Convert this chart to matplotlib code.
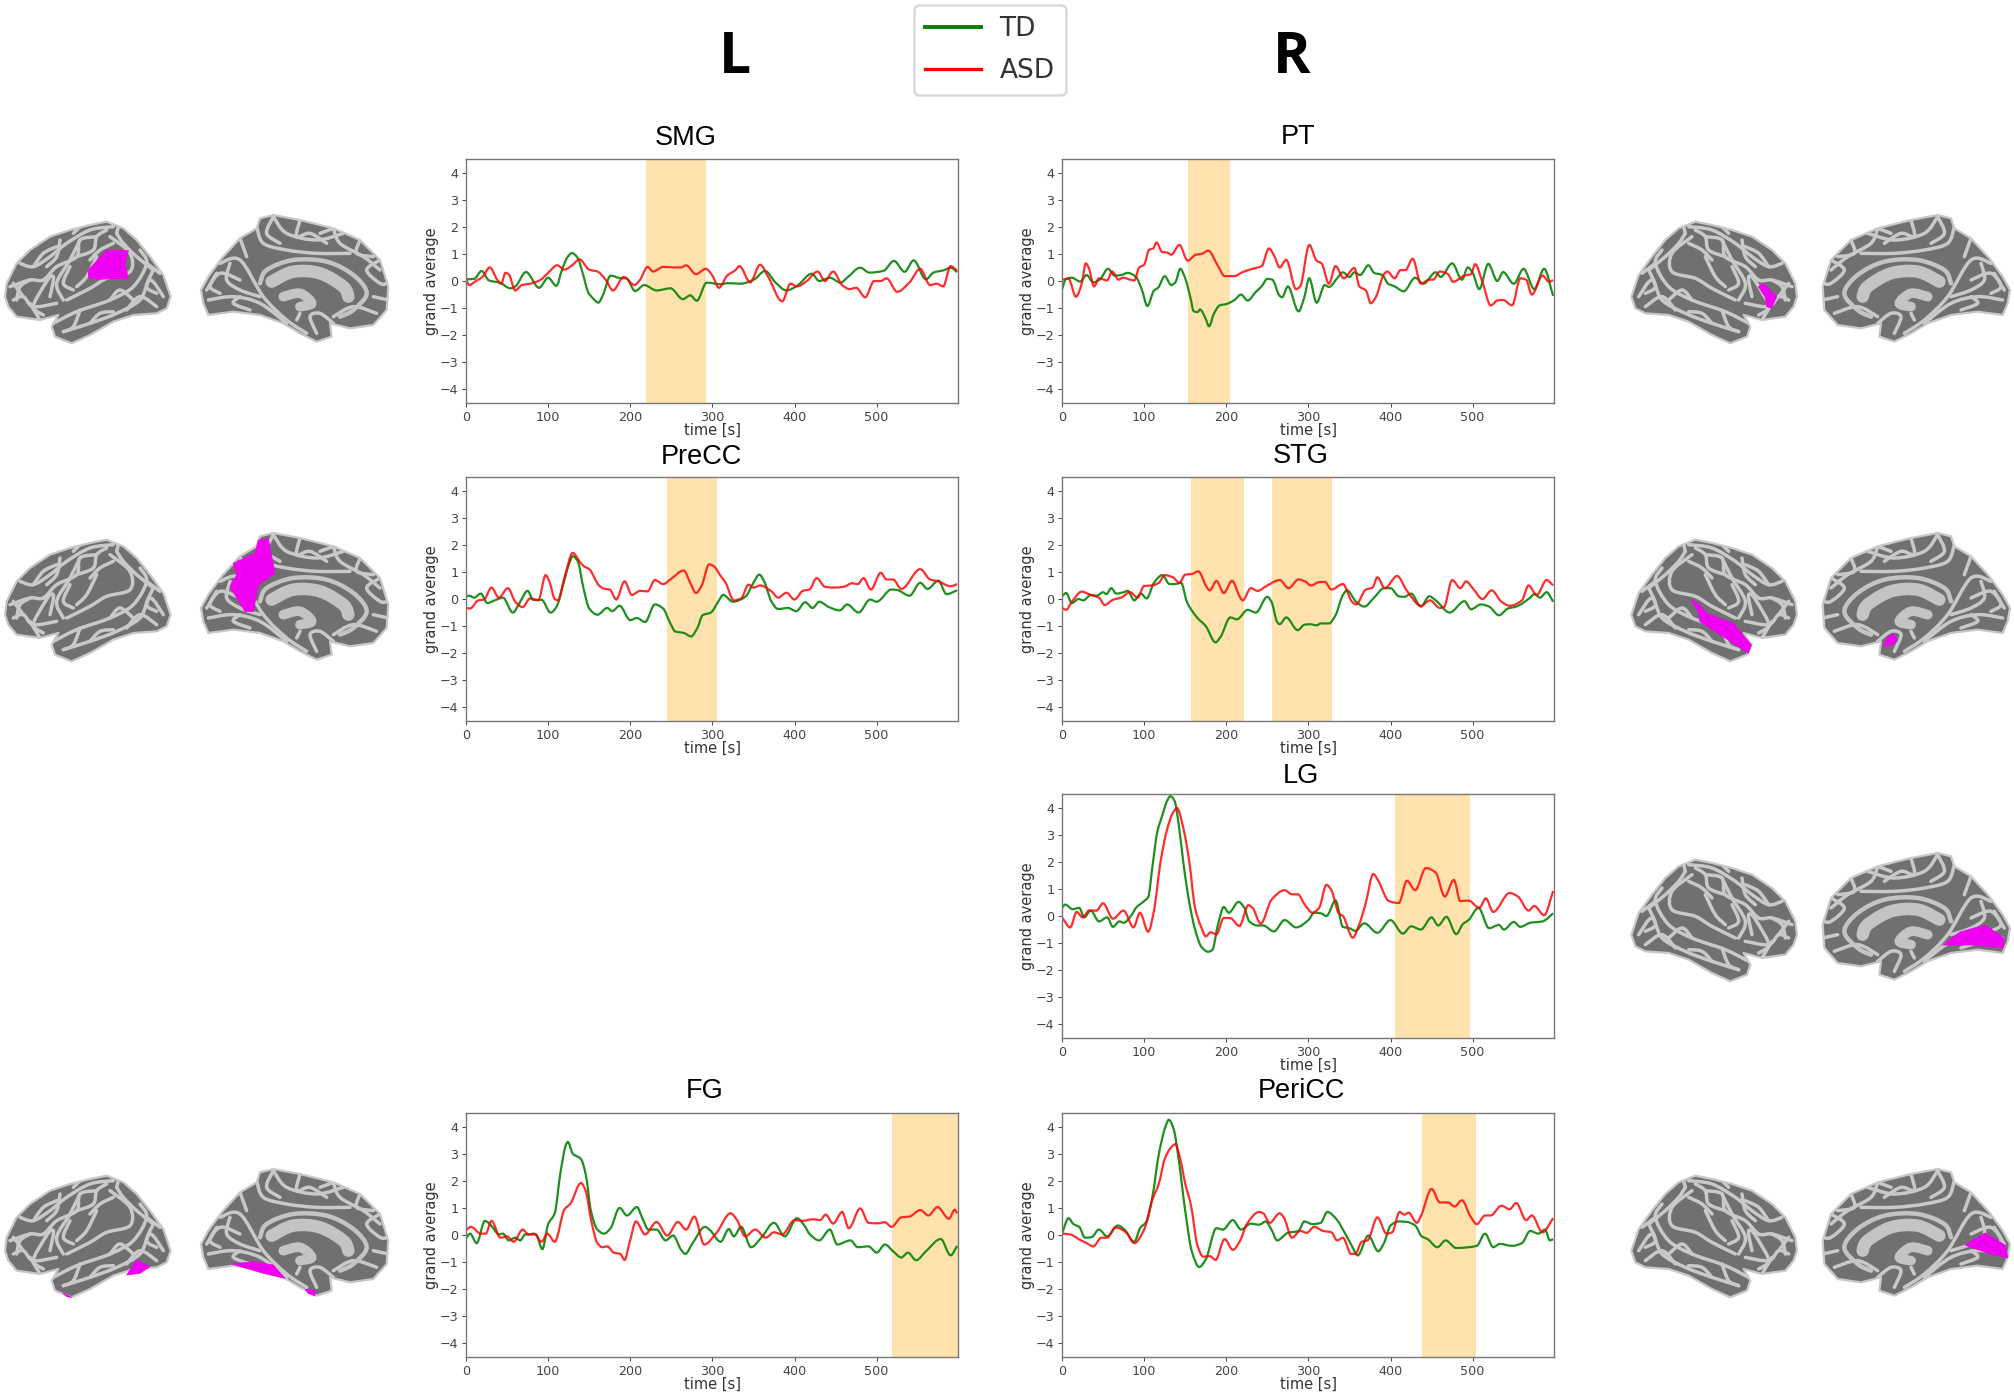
import numpy as np
import matplotlib
matplotlib.use("Agg")
import matplotlib.pyplot as plt
from matplotlib.patches import Polygon, PathPatch
from matplotlib.path import Path
from matplotlib.lines import Line2D

W, H = 2014, 1396

# ---------- data: (time [s], grand average) ----------
SMG_TD_T = [0,10,19,28,41,54,60,73,89,100,110,117,124,129,136,142,149,155,161,167,176,189,195,206,217,232,249,264,273,281,293,310,319,334,351,364,377,390,403,421,430,443,456,464,480,491,508,521,534,545,560,569,582,590,598]
SMG_TD_V = [.06,.08,.37,.02,-.06,-.27,-.2,.33,-.25,.12,-.18,.43,.9,1.03,.85,.3,-.43,-.65,-.8,-.5,.2,.1,.1,-.37,-.15,-.35,-.27,-.67,-.53,-.73,-.06,-.12,-.08,-.1,.06,.37,-.06,-.35,-.18,.27,0,.12,-.06,.12,.49,.31,.37,.74,.34,.76,.06,.31,.4,.49,.33]
SMG_ASD_T = [0,4,12,20,29,38,43,48,52,60,68,78,90,100,111,120,130,138,150,160,170,179,192,205,212,221,228,240,255,262,268,280,292,300,308,318,328,333,346,358,368,385,395,403,415,428,437,447,458,467,475,486,497,505,512,525,540,553,565,573,581,590,598]
SMG_ASD_V = [.05,-.15,0,.15,.5,.05,-.1,.3,.25,-.35,-.15,-.1,.03,.3,.58,.42,.6,.8,.42,.35,.05,-.35,.15,-.15,.05,.52,.35,.52,.5,.5,.58,.25,.45,.2,-.25,.2,.4,.55,-.05,.6,.15,-.75,-.1,-.2,0,.35,0,.35,-.15,-.3,-.25,-.6,0,0,.1,-.4,-.05,.45,-.15,-.1,-.2,.55,.38]

PT_TD_T = [0,5,12,22,30,38,46,56,64,72,80,90,97,104,112,117,125,133,138,144,150,157,160,165,168,175,179,185,192,200,210,218,226,236,243,250,256,265,268,275,288,295,301,310,320,325,335,342,350,356,363,373,380,390,397,405,416,430,440,455,461,475,487,494,500,508,519,530,537,550,562,575,587,598]
PT_TD_V = [-.3,.08,.12,-.02,.22,-.05,.05,.45,.2,.22,.3,.15,-.3,-.92,-.35,-.25,.18,-.15,-.05,.45,.1,-.7,-1.1,-1.15,-1.05,-1.4,-1.67,-1.2,-.9,-.85,-.7,-.5,-.72,-.4,-.2,.08,.05,-.55,-.6,-.2,-1.12,-.6,.1,-.8,-.15,-.22,.1,.32,.15,.32,.22,.58,.3,.22,-.1,-.2,-.38,.12,-.1,.32,.15,.65,.05,.5,.3,-.3,.63,0,.33,-.1,.45,-.3,.45,-.55]
PT_ASD_T = [0,8,17,24,29,33,39,45,55,61,69,74,88,94,100,106,111,115,122,128,133,143,153,163,170,178,190,198,210,220,232,243,252,258,265,273,285,290,301,310,316,325,333,343,356,362,370,376,382,392,396,405,412,418,427,437,447,452,460,470,476,490,498,503,512,522,530,537,548,558,565,572,585,593,598]
PT_ASD_V = [.05,.08,-.58,-.1,.65,.45,-.2,.1,.02,.35,.05,.12,.02,.5,.6,1.15,1.2,1.42,1.07,1.05,.97,1.33,.75,.97,1,1.12,.55,.18,.18,.33,.45,.55,1.2,.95,.5,.78,-.3,-.2,1.33,.75,.65,-.1,.55,.1,.48,-.2,-.35,-.82,-.6,.25,.35,.1,.4,.4,.82,-.1,.05,.05,.35,.25,-.03,.2,.25,.62,-.05,-.9,-.72,-.7,-.9,.1,.05,-.5,.2,-.03,.03]

PRECC_TD_T = [0,4,10,18,26,35,45,57,66,75,82,92,103,110,118,125,130,136,143,150,160,172,178,187,200,208,218,230,240,248,255,265,274,282,288,298,308,313,325,340,350,357,363,372,380,392,402,413,422,430,442,455,464,478,492,500,518,525,540,553,562,575,585,598]
PRECC_TD_V = [.1,.12,.05,.2,-.15,-.05,.05,-.5,-.1,.3,-.03,-.03,-.5,-.3,.5,1.25,1.58,1.4,.4,-.35,-.58,-.33,-.45,-.25,-.78,-.7,-.85,-.2,-.35,-.85,-1.2,-1.25,-1.38,-1.05,-.6,-.5,-.05,.15,-.1,.08,.6,.9,.65,-.1,-.37,-.33,-.45,-.12,-.33,-.1,-.3,-.42,-.2,-.5,-.02,-.1,.35,.33,.12,.6,.37,.68,.18,.32]
PRECC_ASD_T = [0,5,15,22,31,40,51,60,69,78,88,97,102,108,112,120,130,138,143,150,162,168,175,183,193,202,212,221,230,240,250,265,273,280,287,296,302,310,316,326,335,344,350,358,372,380,390,400,410,418,427,437,448,460,470,477,484,493,505,512,520,530,553,565,575,590,598]
PRECC_ASD_V = [-.33,-.35,-.05,-.02,.42,.05,.4,-.1,-.3,.02,-.05,.88,.6,0,-.05,.8,1.7,1.4,1.22,1.1,.5,.38,.35,-.02,.65,.15,.3,.28,.7,.55,.75,1.05,.6,.22,.5,1.28,1.2,.85,.6,-.05,.02,.53,.42,.5,.28,.05,.23,-.02,.3,.35,.77,.45,.42,.45,.58,.55,.77,.35,.97,.72,.72,.37,1.1,.72,.65,.47,.55]

STG_TD_T = [0,5,12,20,26,35,42,50,54,60,66,75,80,88,96,103,112,122,131,138,145,152,165,175,187,193,205,213,226,236,250,255,262,265,273,287,295,302,310,315,325,333,342,347,358,368,380,392,400,410,417,425,437,447,455,472,490,498,510,520,532,543,553,570,575,582,590,598]
STG_TD_V = [.1,.22,-.15,0,-.05,.15,.12,.25,.18,.4,.2,.25,.3,-.05,.2,.02,.6,.88,.55,.55,.6,-.1,-.7,-1,-1.6,-1.4,-.68,-.75,-.4,-.5,.08,-.1,-.85,-.93,-.68,-1.15,-.95,-.93,-.97,-.9,-.9,-.6,.15,.32,-.1,-.28,.05,.4,.4,.1,.08,.2,-.28,.1,-.05,-.5,-.08,-.38,-.2,-.28,-.6,-.35,-.28,.05,.18,.05,.25,-.1]
STG_ASD_T = [0,5,12,24,35,45,52,62,72,83,92,100,110,118,125,135,143,150,158,166,176,180,188,197,207,217,220,230,238,250,265,276,288,296,303,313,320,328,342,353,358,370,378,384,393,408,420,437,448,460,465,475,485,492,500,512,523,535,545,560,568,578,590,598]
STG_ASD_V = [-.33,-.4,-.1,.27,.15,.05,-.22,-.03,.05,.25,.05,.48,.5,.6,.88,.8,.6,.9,.92,1.02,.45,.32,.67,.22,.67,.05,-.05,.4,.3,.5,.7,.4,.72,.65,.5,.62,.63,.35,.55,-.1,-.2,.35,.42,.8,.4,.85,.3,-.25,-.05,-.33,-.3,.7,.4,.65,.4,0,.32,-.1,-.25,-.05,.5,.15,.7,.5]

LG_TD_T = [0,4,13,21,27,35,45,55,62,70,75,85,90,100,105,110,116,122,128,132,137,142,148,155,162,170,178,183,190,197,203,215,222,228,238,245,258,271,285,300,307,315,322,333,342,350,357,368,384,400,415,425,437,450,458,468,480,488,495,507,520,532,538,550,558,570,585,598]
LG_TD_V = [.3,.42,.25,.3,-.05,.2,-.2,-.05,-.4,-.2,-.25,.05,.3,.55,.7,1.8,3.1,3.7,4.25,4.42,4.25,3.4,1.9,.5,-.5,-1.15,-1.32,-1.25,-.3,.33,.12,.52,.3,-.2,-.35,-.35,-.57,-.15,-.42,-.15,.12,.1,0,.57,-.4,-.45,-.55,-.27,-.62,-.15,-.65,-.38,-.5,-.05,-.35,-.03,-.67,-.3,-.15,.3,-.45,-.33,-.5,-.22,-.4,-.25,-.2,.1]
LG_ASD_T = [0,10,18,25,33,42,50,62,75,87,95,105,112,120,128,135,140,148,155,162,170,175,181,188,197,205,216,227,232,242,255,271,280,287,296,305,313,322,328,337,342,354,362,370,379,385,398,410,420,430,443,455,466,477,485,495,508,516,525,545,555,568,575,587,598]
LG_ASD_V = [-.05,-.42,.15,-.05,.2,.2,.47,-.1,.2,-.42,.12,-.58,.2,2,3.2,3.8,3.98,3.2,2,.3,-.45,-.75,-.6,-.68,-.07,-.08,-.37,.4,.3,-.28,.6,.95,.8,.8,.4,.12,.3,1.15,.95,.1,0,-.8,-.3,.5,1.55,1.3,.55,.48,1.3,.95,1.77,1.6,.72,1.33,.55,.57,.3,.65,.15,.85,.72,.2,.37,.03,.92]

FG_TD_T = [0,5,13,23,32,40,45,52,60,66,72,85,93,100,108,115,122,124,130,140,146,152,160,168,176,187,196,208,215,222,232,243,252,262,267,275,291,297,310,320,326,335,347,360,375,388,403,412,418,430,443,452,468,477,490,500,510,520,530,538,548,560,578,590,598]
FG_TD_V = [-.12,.05,-.3,.52,.3,.02,.05,-.2,-.1,-.2,.02,.02,-.52,.4,.8,2.3,3.35,3.43,3,2.8,2.2,.9,.2,.05,.25,1,.72,1.03,.6,.2,.2,-.2,-.02,-.55,-.7,-.35,.3,.18,-.25,.22,-.05,.3,-.45,-.08,.45,-.05,.62,.35,.05,-.2,.2,-.35,-.2,-.45,-.42,-.65,-.35,-.6,-.83,-.65,-.93,-.6,-.15,-.75,-.4]
FG_ASD_T = [0,6,18,24,31,42,50,58,69,76,83,92,99,108,120,127,140,146,152,160,166,172,180,188,193,199,207,218,232,245,258,268,278,290,305,322,330,340,352,365,375,385,400,410,422,431,438,447,458,466,480,490,500,510,518,530,540,553,563,574,588,595,598]
FG_ASD_V = [.18,.3,.05,.05,.52,-.1,-.05,-.25,.2,.02,.05,-.25,.05,-.25,.95,1.15,1.92,1.6,.6,-.3,-.45,-.42,-.65,-.7,-.92,-.3,.5,.02,.48,-.02,.48,.2,.68,-.35,.08,.8,.55,-.05,.2,-.1,.1,.02,.55,.52,.58,.55,.75,.42,.85,.25,.98,.45,.43,.47,.3,.65,.68,.92,.72,1.03,.6,.93,.8]

PERICC_TD_T = [0,8,14,21,28,36,45,55,68,76,88,95,103,110,118,126,130,136,142,150,158,167,175,188,196,208,218,230,240,248,255,262,275,288,295,305,315,323,335,342,352,360,373,385,392,400,410,420,430,438,445,457,467,480,495,505,515,525,533,548,560,570,580,588,594,598]
PERICC_TD_V = [.05,.62,.4,.3,-.1,-.08,.2,-.05,.35,.2,-.25,.25,.5,1.4,3,4,4.25,3.9,2.8,.9,-.6,-1.18,-.9,.25,.2,.55,.2,.42,.38,.5,.2,-.2,.08,.15,.5,.4,.45,.85,.55,.2,-.35,-.75,-.02,-.6,-.3,.35,.5,.48,.35,-.05,-.15,-.45,-.2,-.48,-.45,-.4,.05,-.45,-.33,-.4,-.3,.15,.05,.2,-.2,-.15]
PERICC_ASD_T = [0,10,22,30,38,48,55,65,78,88,100,110,118,125,132,138,144,150,157,165,172,180,187,198,208,217,225,240,245,253,265,270,280,290,298,307,318,328,335,342,352,357,365,372,384,395,402,411,417,422,432,437,450,460,470,478,487,497,505,515,522,535,545,553,565,572,585,598]
PERICC_ASD_V = [.05,.02,-.18,-.3,-.42,-.1,-.1,.28,.1,-.3,.2,1.3,1.9,2.8,3.2,3.35,2.8,1.9,1.1,-.4,-.8,-.78,-.92,-.15,-.55,-.2,.4,.85,.8,.45,.8,.65,-.1,.15,.08,.3,.15,.1,-.2,-.1,-.7,-.7,-.25,-.2,.65,.05,.1,.85,.75,.82,.45,.7,1.7,1.2,1.2,1.05,1.28,.7,.4,.72,.72,1.08,.95,1.18,.55,.72,.1,.62]

SMG_SPANS = [(219, 292)]
PT_SPANS = [(153, 205)]
PRECC_SPANS = [(245, 305)]
STG_SPANS = [(157, 221), (256, 329)]
LG_SPANS = [(405, 497)]
FG_SPANS = [(519, 599)]
PERICC_SPANS = [(438, 504)]

XTICKS = [0, 100, 200, 300, 400, 500]
YTICKS = [-4, -3, -2, -1, 0, 1, 2, 3, 4]
SERIES_NAMES = ["TD", "ASD"]

# ---------- layout in reference pixels ----------
L_X, R_X, AX_W, AX_H = 466, 1062, 492, 244
panels = [
    ("SMG", SMG_TD_T, SMG_TD_V, SMG_ASD_T, SMG_ASD_V, SMG_SPANS, L_X, 159, 686, 138),
    ("PT", PT_TD_T, PT_TD_V, PT_ASD_T, PT_ASD_V, PT_SPANS, R_X, 159, 1298, 137),
    ("PreCC", PRECC_TD_T, PRECC_TD_V, PRECC_ASD_T, PRECC_ASD_V, PRECC_SPANS, L_X, 477, 701, 457),
    ("STG", STG_TD_T, STG_TD_V, STG_ASD_T, STG_ASD_V, STG_SPANS, R_X, 477, 1301, 456),
    ("LG", LG_TD_T, LG_TD_V, LG_ASD_T, LG_ASD_V, LG_SPANS, R_X, 794, 1301, 776),
    ("FG", FG_TD_T, FG_TD_V, FG_ASD_T, FG_ASD_V, FG_SPANS, L_X, 1113, 705, 1091),
    ("PeriCC", PERICC_TD_T, PERICC_TD_V, PERICC_ASD_T, PERICC_ASD_V, PERICC_SPANS, R_X, 1113, 1301, 1091),
]


def smooth_path(xs, ys):
    """A smooth Bezier Path that passes through every given point, without overshoot."""
    x, y = np.asarray(xs, float), np.asarray(ys, float)
    h = np.diff(x)
    d = np.diff(y) / h
    m = np.zeros_like(x)
    m[0], m[-1] = d[0], d[-1]
    for i in range(1, len(x) - 1):
        if d[i - 1] * d[i] > 0:
            w1, w2 = 2 * h[i] + h[i - 1], h[i] + 2 * h[i - 1]
            m[i] = (w1 + w2) / (w1 / d[i - 1] + w2 / d[i])
    verts = [(x[0], y[0])]
    codes = [Path.MOVETO]
    for i in range(len(h)):
        verts += [(x[i] + h[i] / 3, y[i] + m[i] * h[i] / 3),
                  (x[i + 1] - h[i] / 3, y[i + 1] - m[i + 1] * h[i] / 3),
                  (x[i + 1], y[i + 1])]
        codes += [Path.CURVE4] * 3
    return Path(verts, codes)


def catmull_path(pts):
    p = np.asarray(pts, float)
    q = np.vstack([p[0], p, p[-1]])
    verts = [tuple(p[0])]
    codes = [Path.MOVETO]
    for i in range(1, len(q) - 2):
        verts += [tuple(q[i] + (q[i + 1] - q[i - 1]) / 6),
                  tuple(q[i + 1] - (q[i + 2] - q[i]) / 6),
                  tuple(q[i + 1])]
        codes += [Path.CURVE4] * 3
    return Path(verts, codes)


fig = plt.figure(figsize=(W / 100, H / 100), dpi=100, facecolor="white")

bg = fig.add_axes([0, 0, 1, 1], zorder=0)
bg.set_xlim(0, W)
bg.set_ylim(H, 0)
bg.axis("off")

LAT_OUT = [(15,290),(20,250),(50,190),(90,150),(150,110),(210,90),(270,75),(320,65),(370,85),(410,120),(450,170),(490,225),(512,290),(500,325),(470,340),(400,345),(340,365),(270,405),(215,430),(165,410),(155,380),(175,345),(120,360),(50,350),(25,320)]
LAT_GYRI = [
    [(60,190),(100,200),(150,170),(200,130),(270,90),(340,80)],
    [(30,260),(90,240),(130,240),(170,200),(230,170),(240,120),(290,110)],
    [(240,120),(210,180),(170,250),(190,300)],
    [(150,230),(130,260),(100,320),(130,345)],
    [(200,300),(270,265),(320,235),(390,215),(390,160),(330,110)],
    [(160,370),(230,335),(330,300),(400,260),(440,190),(420,150)],
    [(190,395),(270,370),(350,340),(420,300),(450,240),(490,290)],
    [(40,300),(70,290),(100,320),(170,310)],
    [(290,170),(260,230),(230,260)],
    [(380,330),(420,290),(470,320)],
    [(350,100),(370,130),(410,170),(460,210)],
    [(100,200),(130,160),(170,140)],
    [(90,240),(60,260),(50,300)],
    [(130,240),(160,230),(150,290)],
    [(230,170),(280,150),(290,110),(320,90)],
    [(270,180),(300,150),(340,130)],
    [(350,100),(360,60)],
    [(180,120),(170,170),(140,200)],
    [(220,100),(240,80)],
    [(210,200),(190,250),(220,270)],
    [(330,300),(360,270),(400,300)],
    [(240,330),(220,380),(190,395)],
    [(270,370),(300,340),(340,335)],
    [(440,190),(480,220)],
    [(460,210),(440,260),(470,280)],
    [(70,290),(40,250)],
    [(120,360),(90,310)],
]
MED_OUT = [(603,270),(625,230),(665,175),(720,115),(770,85),(780,55),(820,45),(900,60),(1000,85),(1080,120),(1140,180),(1165,260),(1160,330),(1120,375),(1050,385),(990,370),(995,410),(950,425),(900,400),(850,370),(780,345),(700,335),(625,345),(610,310)]
MED_GYRI = [
    [(660,190),(720,180),(790,290),(860,360),(920,400)],
    [(770,80),(790,130),(860,150),(950,160),(1050,160)],
    [(820,50),(860,100),(950,120),(1030,100)],
    [(1000,85),(1020,130),(1090,170),(1140,210)],
    [(625,300),(700,290),(780,310),(860,370)],
    [(620,270),(660,220),(720,240)],
    [(1130,340),(1060,320),(1000,350)],
    [(720,115),(740,170)],
    [(820,50),(800,100),(840,130)],
    [(900,60),(890,110),(930,100),(980,130)],
    [(1000,85),(960,100)],
    [(1080,120),(1070,160),(1120,170)],
    [(1140,180),(1100,210),(1140,250),(1165,250)],
    [(1120,290),(1165,300)],
    [(650,220),(630,260),(660,280)],
    [(690,190),(680,240),(720,270),(780,290)],
    [(750,330),(700,310),(720,290)],
    [(1000,370),(960,340),(930,350),(950,400)],
    [(890,360),(900,340)],
]
MED_BANDS = [
    ([(780,250),(800,210),(880,180),(980,185),(1060,225),(1100,280),(1060,330),(1020,350)], 3.2),
    ([(815,245),(880,215),(960,220),(1030,260),(1045,290)], 9.0),
    ([(850,290),(900,280),(935,310),(900,320)], 7.0),
]


def to_px(pts, oy, mirror=None):
    out = []
    for x, y in pts:
        px, py = x / 3, y / 3 + oy
        px = mirror - px if mirror is not None else px
        out.append((px, py))
    return out


def draw_brain(outline, lines, bands, oy, mirror=None):
    pts = to_px(outline, oy, mirror)
    body = Polygon(pts, closed=True, fc="#707070", ec="#c8c8c8", lw=1.6, joinstyle="round")
    bg.add_patch(body)
    for ln in lines:
        bg.add_patch(PathPatch(catmull_path(to_px(ln, oy, mirror)), fc="none", ec="#c9c9c9",
                               lw=2.5, capstyle="round", joinstyle="round", clip_path=body))
    for ln, lw in bands:
        bg.add_patch(PathPatch(catmull_path(to_px(ln, oy, mirror)), fc="none", ec="#c4c4c4",
                               lw=lw, capstyle="round", joinstyle="round", clip_path=body))


LAT_MIRROR, MED_MIRROR = 1802, 2211
for oy in (200, 518, 1154):
    draw_brain(LAT_OUT, LAT_GYRI, [], oy)
    draw_brain(MED_OUT, MED_GYRI, MED_BANDS, oy)
for oy in (200, 518, 838, 1154):
    draw_brain(LAT_OUT, LAT_GYRI, [], oy, LAT_MIRROR)
    draw_brain(MED_OUT, MED_GYRI, MED_BANDS, oy, MED_MIRROR)


def crop_px(pts, cx, cy):
    return [(cx + x / 3, cy + y / 3) for x, y in pts]


REGIONS = [
    crop_px([(265,210),(320,150),(385,152),(375,190),(385,235),(290,238),(265,232)], 0, 200),
    crop_px([(775,30),(805,25),(825,130),(775,165),(760,245),(735,245),(690,170),(710,135),(700,100),(765,70)], 0, 530),
    crop_px([(380,345),(410,300),(450,320),(420,340)], 0, 1160),
    crop_px([(188,398),(215,412),(200,410)], 0, 1160),
    crop_px([(695,312),(760,305),(820,315),(855,355),(790,340)], 0, 1160),
    crop_px([(915,388),(945,390),(945,408),(925,400)], 0, 1160),
    crop_px([(415,260),(430,250),(470,290),(455,325),(440,320),(435,290)], 1620, 200),
    crop_px([(212,1198),(235,1210),(260,1240),(340,1270),(395,1335),(385,1360),(340,1330),(240,1265),(235,1235)], 1620, 200),
    crop_px([(790,1340),(800,1315),(820,1300),(833,1320),(815,1335)], 1620, 200),
    [(1943,945),(1960,932),(1985,925),(2004,938),(2003,948),(1975,945)],
    [(1965,1245),(1985,1233),(2005,1245),(2008,1258),(1990,1254)],
]
for reg in REGIONS:
    bg.add_patch(Polygon(reg, closed=True, fc="#f000f0", ec="#f000f0", lw=0.5, zorder=5))

# ---------- panels ----------
for name, td_t, td_v, asd_t, asd_v, spans, ax_x, ax_y, tx, ty in panels:
    ax = fig.add_axes([ax_x / W, 1 - (ax_y + AX_H) / H, AX_W / W, AX_H / H], zorder=2)
    for a, b in spans:
        ax.axvspan(a, b, color="orange", alpha=0.32, lw=0)
    ax.add_patch(PathPatch(smooth_path(td_t, td_v), fc="none", ec="green", lw=1.6, alpha=0.88, label=SERIES_NAMES[0]))
    ax.add_patch(PathPatch(smooth_path(asd_t, asd_v), fc="none", ec="red", lw=1.6, alpha=0.82, label=SERIES_NAMES[1]))
    ax.set_xlim(0, 599)
    ax.set_ylim(-4.5, 4.5)
    ax.set_xticks(XTICKS)
    ax.set_yticks(YTICKS)
    ax.tick_params(labelsize=9.2, length=3, width=0.7, colors="#444444", pad=2.5)
    ax.set_xlabel("time [s]", fontsize=10.5, color="#333333", labelpad=-0.5)
    ax.set_ylabel("grand average", fontsize=10.5, color="#333333", labelpad=0.5)
    for s in ax.spines.values():
        s.set_color("#777777")
        s.set_linewidth(1.0)
    fig.text(tx / W, 1 - ty / H, name, ha="center", va="center", fontsize=19.5, family="Liberation Sans", color="black")

# ---------- headers and legend ----------
fig.text(735 / W, 1 - 58 / H, "L", ha="center", va="center", fontsize=41, family="Open Sans", weight="bold", color="black")
fig.text(1292 / W, 1 - 58 / H, "R", ha="center", va="center", fontsize=41, family="Open Sans", weight="bold", color="black")

leg_h = [Line2D([], [], color="green", lw=2.8), Line2D([], [], color="red", lw=2.4)]
leg = fig.legend(leg_h, SERIES_NAMES, loc="upper left", bbox_to_anchor=(914 / W, 1 - 5 / H),
                 fontsize=19, frameon=True, borderaxespad=0, borderpad=0.42, labelspacing=0.6,
                 handlelength=2.1, handletextpad=0.72, fancybox=True, edgecolor="#d9d9d9", framealpha=1)
leg.get_frame().set_linewidth(1.8)
for t in leg.get_texts():
    t.set_color("#333333")

fig.savefig("out.png", dpi=100, facecolor="white")
